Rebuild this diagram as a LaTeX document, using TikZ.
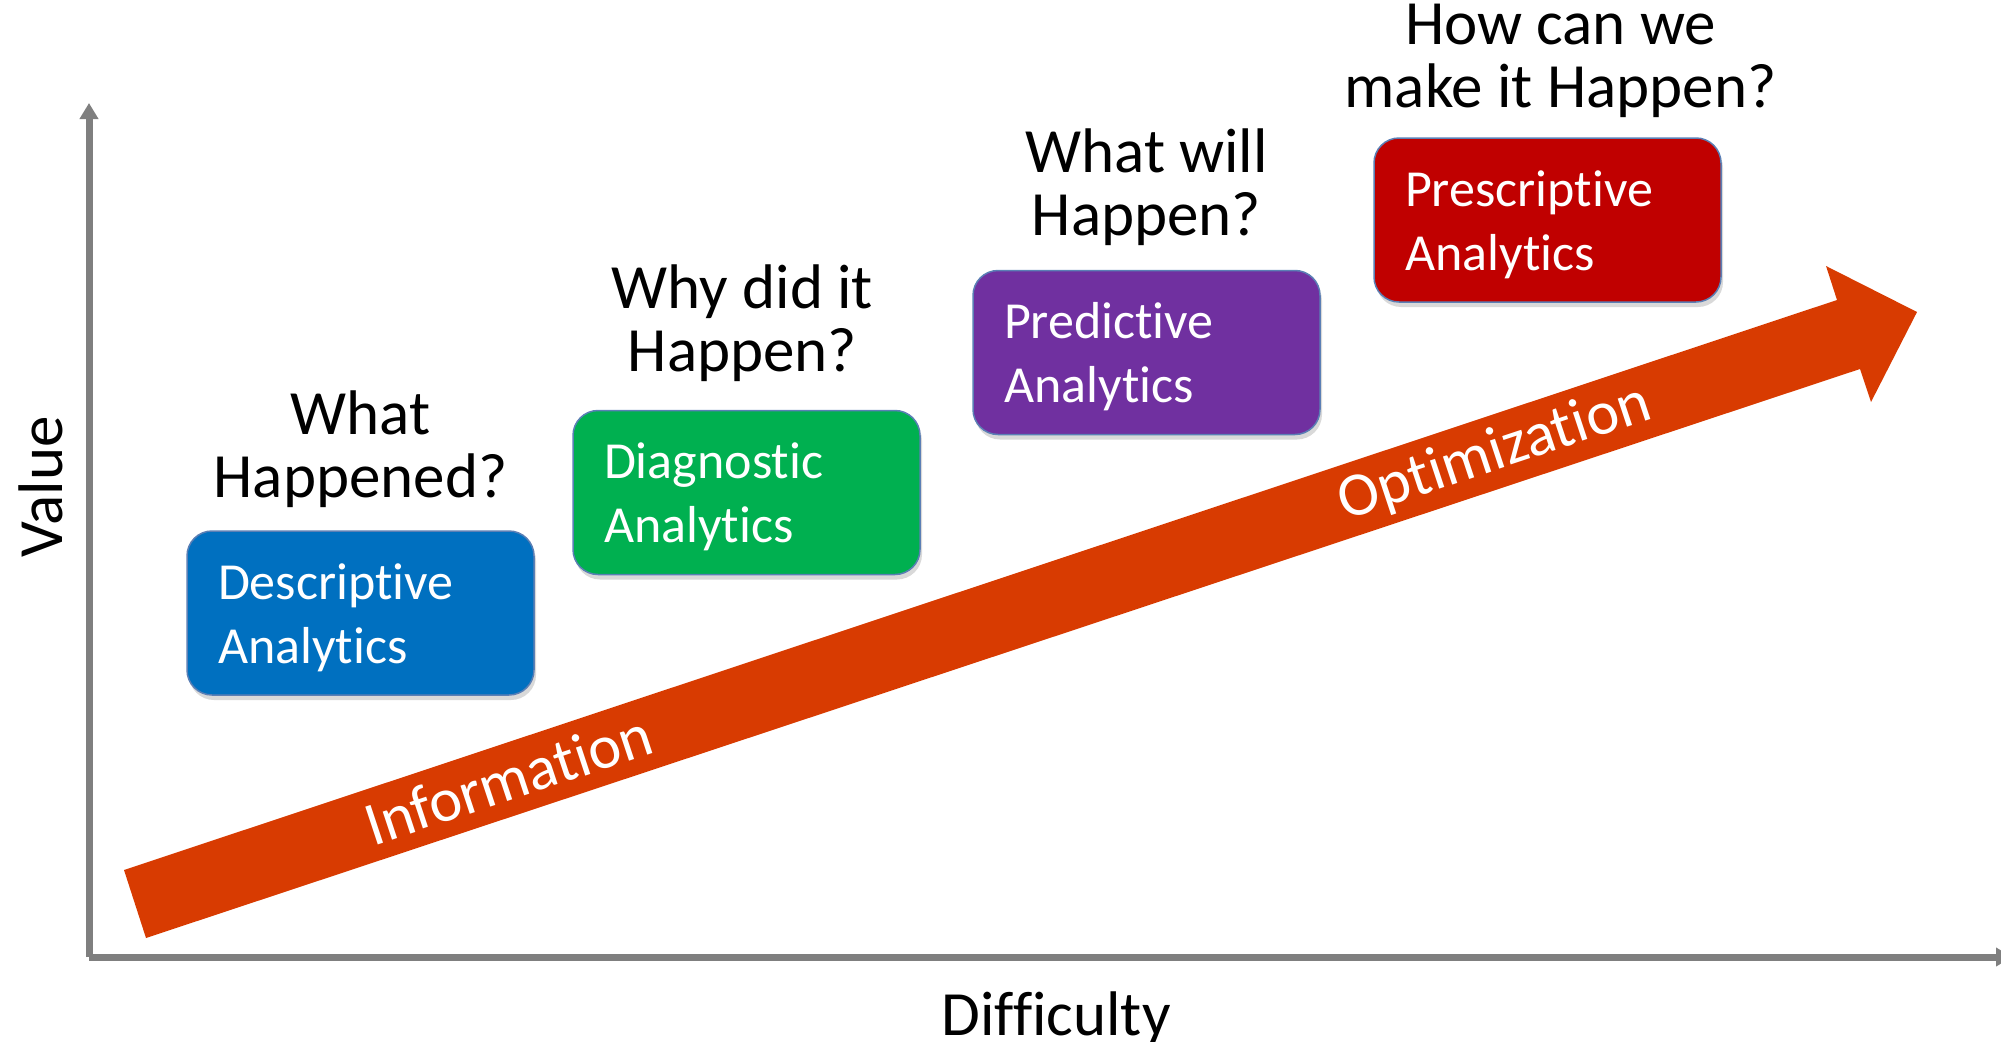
\documentclass[tikz,border=0pt]{standalone}
\usepackage{fontspec}
\setmainfont{Carlito}[Ligatures=NoCommon]
\usetikzlibrary{arrows.meta,positioning,shadows}
\definecolor{achsgrau}{HTML}{7F7F7F}
\definecolor{pfeilrot}{HTML}{D83B01}
\definecolor{blau}{HTML}{0070C0}
\definecolor{gruen}{HTML}{00B050}
\definecolor{lila}{HTML}{7030A0}
\definecolor{rot}{HTML}{C00000}
\definecolor{rand}{HTML}{5B7FB5}
\def\kasten#1#2#3#4{\node[kasten,fill=#2] (#1) at #3 {#4};}
\def\frage#1#2#3#4{\node[frage,above=#3 of #1,xshift=#2] (q#1) {#4};}

\begin{document}
\begin{tikzpicture}[x=1pt,y=-1pt,
  achse/.style={line width=7pt,draw=achsgrau,-{Triangle[width=18pt,length=16pt]}},
  kasten/.style={rounded corners=25pt,draw=rand,line width=1.5pt,
    minimum width=347pt,minimum height=164pt,text width=285pt,align=left,
    inner sep=0pt,text height=36pt,text depth=64pt,text=white,font=\fontsize{52}{64}\selectfont,
    drop shadow={opacity=0.3,shadow xshift=2pt,shadow yshift=-5pt}},
  frage/.style={align=center,inner sep=0pt,text depth=0pt,font=\fontsize{63}{63}\selectfont},
  achstext/.style={inner sep=0pt,anchor=base,font=\fontsize{63}{63}\selectfont},
  pfeiltext/.style={inner sep=0pt,anchor=base,rotate=18.37,text=white,font=\fontsize{62}{62}\selectfont}]
\useasboundingbox (0,0) rectangle (2001,1041);
\clip (0,0) rectangle (2001,1041);
\coordinate (O) at (89,957);
\coordinate (Y) at (89,103);
\coordinate (X) at (2012,957);
\draw[achse] (O) -- (Y);
\draw[achse] (O) -- (X);
\coordinate (P0) at (124,870);
\coordinate (P1) at (1837,300);
\coordinate (P2) at (1826,266);
\coordinate (P3) at (1917,312);
\coordinate (P4) at (1871,402);
\coordinate (P5) at (1860,369);
\coordinate (P6) at (146,938);
\fill[pfeilrot] (P0) -- (P1) -- (P2) -- (P3) -- (P4) -- (P5) -- (P6) -- cycle;
\node[pfeiltext] (info) at (515,799) {Information};
\node[pfeiltext] (opti) at (1500,469) {Optimization};
\kasten{desc}{blau}{(360.5,613)}{Descriptive\\Analytics}
\kasten{diag}{gruen}{(746.5,492.5)}{Diagnostic\\Analytics}
\kasten{pred}{lila}{(1146.5,352.5)}{Predictive\\Analytics}
\kasten{presc}{rot}{(1547.5,220)}{Prescriptive\\Analytics}
\frage{desc}{0pt}{33pt}{What\\Happened?}
\frage{diag}{-4pt}{38pt}{Why did it\\Happen?}
\frage{pred}{0pt}{34pt}{What will\\Happen?}
\frage{presc}{13pt}{30pt}{How can we\\make it Happen?}
\node[achstext,rotate=90] (value) at (62,487) {Value};
\node[achstext] (diff) at (1056,1035) {Difficulty};
\end{tikzpicture}
\end{document}
